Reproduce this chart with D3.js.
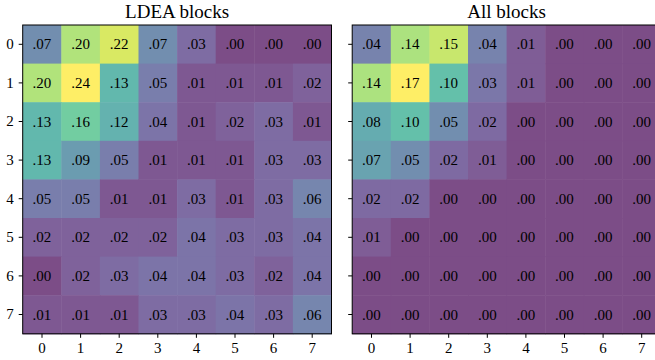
<!DOCTYPE html>
<html>
<head>
<meta charset="utf-8">
<script src="https://cdn.jsdelivr.net/npm/d3@7"></script>
<style>
  html, body { margin: 0; padding: 0; background: #fff; }
  svg { display: block; }
</style>
</head>
<body>
<svg id="chart" width="655" height="360"></svg>
<script>
// Row/column block indices
const rows = [0, 1, 2, 3, 4, 5, 6, 7];
const cols = [0, 1, 2, 3, 4, 5, 6, 7];

// Attention share per block pair (rows x cols)
const ldeaValues = [
  [0.07, 0.20, 0.22, 0.07, 0.03, 0.00, 0.00, 0.00],
  [0.20, 0.24, 0.13, 0.05, 0.01, 0.01, 0.01, 0.02],
  [0.13, 0.16, 0.12, 0.04, 0.01, 0.02, 0.03, 0.01],
  [0.13, 0.09, 0.05, 0.01, 0.01, 0.01, 0.03, 0.03],
  [0.05, 0.05, 0.01, 0.01, 0.03, 0.01, 0.03, 0.06],
  [0.02, 0.02, 0.02, 0.02, 0.04, 0.03, 0.03, 0.04],
  [0.00, 0.02, 0.03, 0.04, 0.04, 0.03, 0.02, 0.04],
  [0.01, 0.01, 0.01, 0.03, 0.03, 0.04, 0.03, 0.06]
];

const allValues = [
  [0.04, 0.14, 0.15, 0.04, 0.01, 0.00, 0.00, 0.00],
  [0.14, 0.17, 0.10, 0.03, 0.01, 0.00, 0.00, 0.00],
  [0.08, 0.10, 0.05, 0.02, 0.00, 0.00, 0.00, 0.00],
  [0.07, 0.05, 0.02, 0.01, 0.00, 0.00, 0.00, 0.00],
  [0.02, 0.02, 0.00, 0.00, 0.00, 0.00, 0.00, 0.00],
  [0.01, 0.00, 0.00, 0.00, 0.00, 0.00, 0.00, 0.00],
  [0.00, 0.00, 0.00, 0.00, 0.00, 0.00, 0.00, 0.00],
  [0.00, 0.00, 0.00, 0.00, 0.00, 0.00, 0.00, 0.00]
];

const titles = ["LDEA blocks", "All blocks"];

const FONT = "'Liberation Serif', 'Times New Roman', Times, 'DejaVu Serif', serif";

const svg = d3.select("#chart");
const size = 308.8;
const panelTop = 25;
const panels = [
  { x0: 22.7, values: ldeaValues, title: titles[0], yLabels: true },
  { x0: 352.2, values: allValues, title: titles[1], yLabels: false }
];

const fmt = v => d3.format(".2f")(v).replace(/^0/, "");

panels.forEach(p => {
  const g = svg.append("g").attr("transform", `translate(${p.x0},${panelTop})`);
  const x = d3.scaleBand().domain(cols).range([0, size]);
  const y = d3.scaleBand().domain(rows).range([0, size]);
  const vmax = d3.max(p.values.flat());
  const viridis = d3.scaleSequential(d3.interpolateViridis).domain([0, vmax]);
  // viridis at 70% opacity, pre-blended onto white so cells tile without seams
  const color = v => d3.interpolateRgb("#ffffff", viridis(v))(0.7);

  const cells = [];
  p.values.forEach((row, r) => row.forEach((v, c) => cells.push({ r, c, v })));

  g.selectAll("rect.cell")
    .data(cells)
    .join("rect")
    .attr("class", "cell")
    .attr("x", d => x(d.c))
    .attr("y", d => y(d.r))
    .attr("width", x.bandwidth() + 0.5)
    .attr("height", y.bandwidth() + 0.5)
    .attr("fill", d => color(d.v));

  g.selectAll("text.val")
    .data(cells)
    .join("text")
    .attr("class", "val")
    .attr("x", d => x(d.c) + x.bandwidth() / 2)
    .attr("y", d => y(d.r) + y.bandwidth() / 2 + 5)
    .attr("text-anchor", "middle")
    .style("font-family", FONT)
    .style("font-size", "15px")
    .attr("fill", "#000")
    .text(d => fmt(d.v));

  // frame
  g.append("rect")
    .attr("x", 0).attr("y", 0)
    .attr("width", size).attr("height", size)
    .attr("fill", "none")
    .attr("stroke", "#000")
    .attr("stroke-width", 1);

  const yAxis = d3.axisLeft(y).tickSize(4).tickPadding(5)
    .tickFormat(p.yLabels ? d => d : () => "");
  const ya = g.append("g").call(yAxis);
  ya.select(".domain").remove();
  ya.selectAll("text").style("font-size", "15px").style("font-family", FONT);

  const xAxis = d3.axisBottom(x).tickSize(4).tickPadding(5);
  const xa = g.append("g").attr("transform", `translate(0,${size})`).call(xAxis);
  xa.select(".domain").remove();
  xa.selectAll("text").style("font-size", "15px").style("font-family", FONT);

  g.append("text")
    .attr("x", size / 2)
    .attr("y", -7)
    .attr("text-anchor", "middle")
    .style("font-family", FONT)
    .style("font-size", "19px")
    .attr("fill", "#000")
    .text(p.title);
});
</script>
</body>
</html>
